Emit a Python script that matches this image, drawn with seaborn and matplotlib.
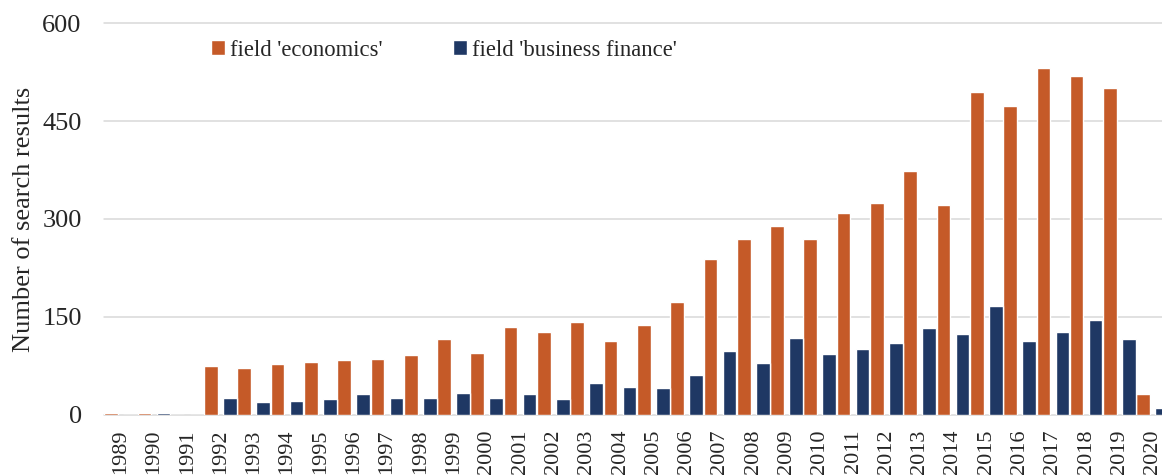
import numpy as np
import pandas as pd
import matplotlib
matplotlib.use('Agg')
import matplotlib.pyplot as plt
import seaborn as sns

# values
years = np.arange(1989, 2021)
economics = [3, 3, 0, 75, 72, 77, 80, 83, 85, 91, 116, 94, 134, 126, 142, 113,
             138, 173, 238, 269, 289, 269, 309, 325, 374, 321, 494, 473, 531, 519, 501, 31]
business_finance = [0, 3, 0, 25, 19, 20, 24, 32, 26, 25, 33, 26, 31, 24, 49, 42,
                    41, 61, 97, 79, 118, 93, 100, 109, 133, 124, 166, 112, 126, 145, 116, 10]
labels = ["field 'economics'", "field 'business finance'"]
colors = ['#C55A28', '#1F3864']
y_ticks = [0, 150, 300, 450, 600]

sns.set_theme(style='white')
plt.rcParams['font.family'] = ['Liberation Serif', 'DejaVu Serif']
text_col = '#262626'
plt.rcParams['text.color'] = text_col
plt.rcParams['xtick.color'] = text_col
plt.rcParams['ytick.color'] = text_col
plt.rcParams['axes.labelcolor'] = text_col

W, H = 1162, 475
fig = plt.figure(figsize=(W / 100, H / 100), dpi=100)
left, right, top, bottom = 103.9, 1169.4, 23.3, 414.5
ax = fig.add_axes([left / W, 1 - bottom / H, (right - left) / W, (bottom - top) / H])

# excel-like layout: no gap between categories, gap between the two series
offset = 0.285
bar_w = 0.41
sns.barplot(x=years - offset, y=economics, native_scale=True, width=bar_w,
            color=colors[0], saturation=1, errorbar=None, label=labels[0], ax=ax, zorder=3)
sns.barplot(x=years + offset, y=business_finance, native_scale=True, width=bar_w,
            color=colors[1], saturation=1, errorbar=None, label=labels[1], ax=ax, zorder=3)

ax.set_xlim(years[0] - 0.5, years[-1] + 0.5)
ax.set_ylim(0, 600)
ax.set_xticks(years)
ax.set_xticklabels([str(y) for y in years])
ax.set_yticks(y_ticks)
ax.yaxis.grid(True, color='#d9d9d9', linewidth=1.1)
ax.xaxis.grid(False)
for gl in ax.get_ygridlines():
    gl.set_clip_on(False)
ax.set_axisbelow(True)
sns.despine(ax=ax, left=True, bottom=True, top=True, right=True)

ax.tick_params(axis='x', length=0, pad=11, labelsize=16, labelrotation=90)
ax.tick_params(axis='y', length=0, pad=16, labelsize=19)
ax.set_xlabel('')
ax.set_ylabel('Number of search results', fontsize=19)
ax.yaxis.set_label_coords(-0.065, 0.5)

ax.legend(loc='center left', bbox_to_anchor=(211 / W, 1 - 50 / H),
          bbox_transform=fig.transFigure, ncol=2, frameon=False,
          fontsize=16.3, handlelength=0.6, handleheight=0.6, handletextpad=0.25,
          columnspacing=3.1, borderpad=0, borderaxespad=0)

fig.savefig('out.png', dpi=100)
